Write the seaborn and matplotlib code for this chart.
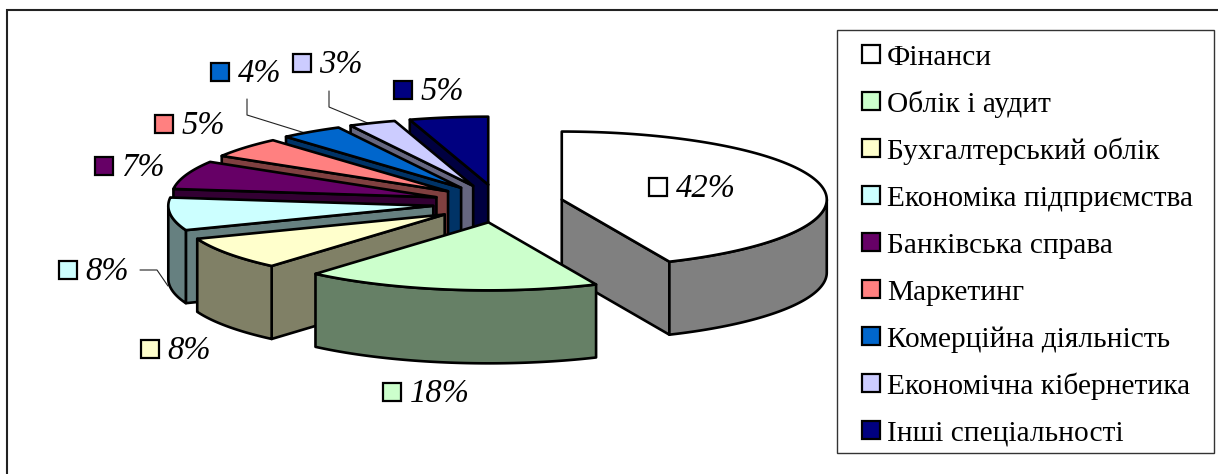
import numpy as np
import matplotlib
matplotlib.use("Agg")
import matplotlib.pyplot as plt
from matplotlib.patches import Polygon, Rectangle
import seaborn as sns

# Graduates by specialty, percent
categories = ["Фінанси", "Облік і аудит", "Бухгалтерський облік", "Економіка підприємства",
              "Банківська справа", "Маркетинг", "Комерційна діяльність",
              "Економічна кібернетика", "Інші спеціальності"]
shares = [42, 18, 8, 8, 7, 5, 4, 3, 5]
palette = ["#FFFFFF", "#CCFFCC", "#FFFFCC", "#CCFFFF", "#660066",
           "#FF8080", "#0066CC", "#CCCCFF", "#000080"]

# Layout in pixels
W, H = 1218, 474
CX, CY = 498, 203.5
RX, RY = 265, 68
DEPTH = 73
EXPLODE_X, EXPLODE_Y = 0.246, 0.28
SKEW = 5.0
PIE_LW = 1.9
label_pos = [(658, 187), (392, 392), (150, 349), (68, 270), (104, 166),
             (164, 124), (220, 72), (302, 63), (403, 90)]
# Draw back to front so nearer slices cover the farther ones
draw_order = [8, 7, 6, 5, 4, 3, 2, 0, 1]

sns.set_theme(style="white")
plt.rcParams["font.family"] = ["Liberation Serif", "DejaVu Serif"]

fig = plt.figure(figsize=(W / 100, H / 100), dpi=100, facecolor="white")
ax = fig.add_axes([0, 0, 1, 1])
ax.set_xlim(0, W)
ax.set_ylim(H, 0)
ax.axis("off")


def view_angle(t):
    """Angle on the tilted ellipse for a clockwise angle measured from 12 o'clock."""
    return t + SKEW * np.sin(np.radians(t) / 2)


def rim(apex, t):
    a = np.radians(t)
    return np.column_stack([apex[0] + RX * np.sin(a), apex[1] - RY * np.cos(a)])


def shade(color):
    return np.array(matplotlib.colors.to_rgb(color)) / 2


def face(points, color, z):
    ax.add_patch(Polygon(points, closed=True, facecolor=color, edgecolor="black",
                         linewidth=PIE_LW, joinstyle="round", zorder=z))


# Outer frame: top and left rules only
ax.plot([6.5, 6.5, W], [H, 9.5, 9.5], color="#222222", lw=1.5, zorder=1,
        solid_joinstyle="miter")

edges = 360 * np.cumsum([0] + shares) / sum(shares)
for rank, i in enumerate(draw_order):
    t0, t1 = view_angle(edges[i]), view_angle(edges[i + 1])
    mid = np.radians((t0 + t1) / 2)
    apex = np.array([CX + EXPLODE_X * RX * np.sin(mid), CY - EXPLODE_Y * RY * np.cos(mid)])
    color = palette[i]
    dark = shade(color)
    z = 2 + rank
    down = np.array([0, DEPTH])

    # Radial side faces seen from the front
    if t0 > 180:
        p = rim(apex, np.array([t0]))[0]
        face([apex, p, p + down, apex + down], dark, z)
    if t1 < 180:
        p = rim(apex, np.array([t1]))[0]
        face([apex, p, p + down, apex + down], dark, z)

    # Curved outer wall on the near half of the rim
    lo, hi = max(t0, 90), min(t1, 270)
    if lo < hi:
        arc = rim(apex, np.linspace(lo, hi, 80))
        face(np.vstack([arc, (arc + down)[::-1]]), dark, z)

    # Top surface
    arc = rim(apex, np.linspace(t0, t1, 120))
    face(np.vstack([apex[None, :], arc]), color, z)

# Data labels with their colour keys
for (x, y), c, s in zip(label_pos, palette, shares):
    ax.add_patch(Rectangle((x - 9.25, y - 9.25), 18.5, 18.5, facecolor=c, edgecolor="black",
                           linewidth=1.6, zorder=20))
    ax.text(x + 17.5, y + 10, f"{s}%", fontsize=23.5, style="italic", color="black",
            va="baseline", ha="left", zorder=20)

# Leader lines to the narrow slices
leaders = [([140, 157, 168], [270, 270, 286]),
           ([247, 247, 305], [99, 115, 133]),
           ([329, 329, 370], [91, 107, 124])]
for lx, ly in leaders:
    ax.plot(lx, ly, color="#222222", lw=0.8, zorder=1.5)

# Legend box
ax.add_patch(Rectangle((837, 29.5), 377, 423.5, facecolor="white", edgecolor="#333333",
                       linewidth=1.0, zorder=21))
for k, (name, c) in enumerate(zip(categories, palette)):
    y = 53.5 + k * 47
    ax.add_patch(Rectangle((861.5, y - 9), 18.5, 18.5, facecolor=c, edgecolor="black",
                           linewidth=1.6, zorder=22))
    ax.text(887, y + 11.5, name, fontsize=21.2, color="black", va="baseline", ha="left", zorder=22)

sns.despine(ax=ax, left=True, bottom=True)
fig.savefig("out.png", dpi=100, facecolor="white")
